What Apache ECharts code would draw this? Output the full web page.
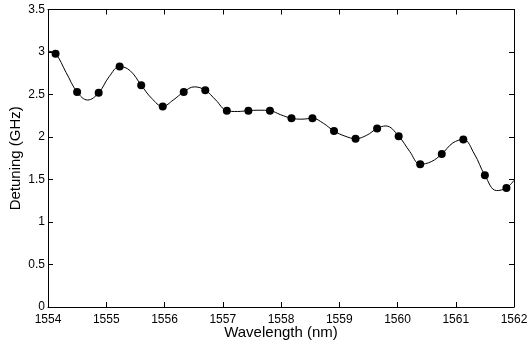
<!DOCTYPE html>
<html>
<head>
<meta charset="utf-8">
<script src="https://cdn.jsdelivr.net/npm/echarts@6/dist/echarts.min.js"></script>
<style>html,body{margin:0;padding:0;background:#fff}#c{width:528px;height:340px}</style>
</head>
<body>
<div id="c"></div>
<script>
// measured points (markers)
var wavelength = [1554.13, 1554.50, 1554.87, 1555.23, 1555.60, 1555.97, 1556.33, 1556.70, 1557.07, 1557.44, 1557.81, 1558.18, 1558.54, 1558.91, 1559.28, 1559.65, 1560.02, 1560.39, 1560.76, 1561.13, 1561.50, 1561.87];
var detuning = [2.98, 2.53, 2.52, 2.83, 2.61, 2.36, 2.53, 2.55, 2.31, 2.31, 2.31, 2.22, 2.22, 2.07, 1.98, 2.10, 2.01, 1.68, 1.80, 1.97, 1.55, 1.40];
// fitted curve
var curveX = [1554.00, 1554.31, 1554.68, 1555.05, 1555.41, 1555.78, 1556.15, 1556.51, 1556.88, 1557.25, 1557.62, 1557.99, 1558.36, 1558.73, 1559.10, 1559.47, 1559.80, 1560.21, 1560.58, 1560.95, 1561.32, 1561.70, 1562.00];
var curveY = [3.01, 2.76, 2.435, 2.71, 2.78, 2.455, 2.435, 2.59, 2.435, 2.30, 2.315, 2.263, 2.21, 2.16, 2.01, 2.02, 2.13, 1.83, 1.71, 1.93, 1.80, 1.37, 1.49];
var xTicks = [1554, 1555, 1556, 1557, 1558, 1559, 1560, 1561, 1562];
var yTicks = [0, 0.5, 1, 1.5, 2, 2.5, 3, 3.5];

var pts = wavelength.map(function (w, i) { return [w, detuning[i]]; });
var curve = curveX.map(function (w, i) { return [w, curveY[i]]; }).concat(pts);
curve.sort(function (a, b) { return a[0] - b[0]; });
var font = 'Liberation Sans, Arial, sans-serif';

var chart = echarts.init(document.getElementById('c'), null, {renderer: 'canvas'});
var axX = {
  type: 'value', min: xTicks[0], max: xTicks[xTicks.length - 1], interval: 1,
  axisLine: {show: true, onZero: false, lineStyle: {color: '#000', width: 1}},
  axisTick: {show: true, inside: true, length: 5, lineStyle: {color: '#000'}},
  splitLine: {show: false}
};
var axY = {
  type: 'value', min: yTicks[0], max: yTicks[yTicks.length - 1], interval: 0.5,
  axisLine: {show: true, onZero: false, lineStyle: {color: '#000', width: 1}},
  axisTick: {show: true, inside: true, length: 5, lineStyle: {color: '#000'}},
  splitLine: {show: false}
};
chart.setOption({
  animation: false,
  backgroundColor: '#fff',
  grid: {left: 48, right: 14, top: 9.5, bottom: 33, containLabel: false, outerBoundsMode: 'none'},
  xAxis: [
    Object.assign({}, axX, {
      position: 'bottom',
      name: 'Wavelength (nm)', nameLocation: 'middle', nameGap: 18, nameMoveOverlap: false,
      nameTextStyle: {color: '#000', fontSize: 15, fontFamily: font},
      axisLabel: {color: '#000', fontSize: 12, fontFamily: font, margin: 7,
        formatter: function (v) { return String(v); }}
    }),
    Object.assign({}, axX, {position: 'top', axisLabel: {show: false}})
  ],
  yAxis: [
    Object.assign({}, axY, {
      position: 'left',
      name: 'Detuning (GHz)', nameLocation: 'middle', nameGap: 25, nameMoveOverlap: false,
      nameTextStyle: {color: '#000', fontSize: 15, fontFamily: font},
      axisLabel: {color: '#000', fontSize: 12, fontFamily: font, margin: 3,
        formatter: function (v) { return String(v); }}
    }),
    Object.assign({}, axY, {position: 'right', axisLabel: {show: false}})
  ],
  series: [
    {
      type: 'line', data: curve, smooth: 0.4, showSymbol: false, symbol: 'none',
      lineStyle: {color: '#000', width: 1}, z: 2
    },
    {
      type: 'scatter', data: pts, symbol: 'circle', symbolSize: 8,
      itemStyle: {color: '#000', opacity: 1}, z: 3
    }
  ]
});
</script>
</body>
</html>
